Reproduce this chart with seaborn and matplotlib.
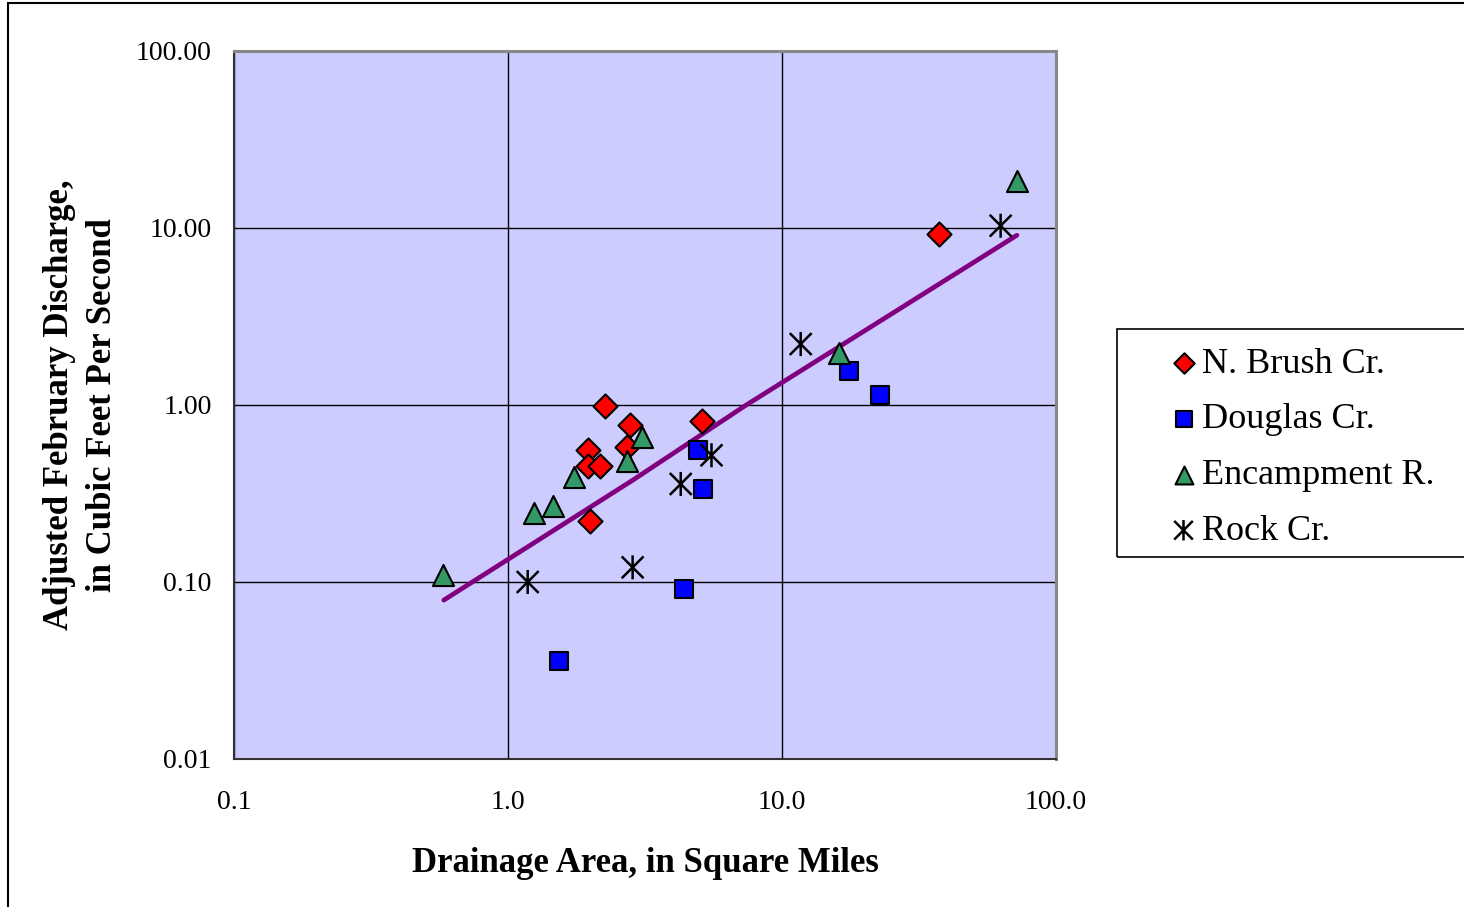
import numpy as np
import pandas as pd
import seaborn as sns
import matplotlib.pyplot as plt
from matplotlib.path import Path
from matplotlib.patches import Rectangle
from matplotlib.ticker import FixedLocator, FormatStrFormatter, NullLocator

# drainage area (sq mi) and adjusted February discharge (cfs)
brush_area = [2.26, 2.79, 1.96, 1.96, 2.17, 2.72, 5.09, 1.99, 37.4]
brush_q = [0.99, 0.77, 0.56, 0.45, 0.45, 0.58, 0.81, 0.22, 9.3]

douglas_area = [4.95, 5.14, 4.39, 1.53, 17.6, 22.8]
douglas_q = [0.56, 0.335, 0.091, 0.036, 1.55, 1.14]

encamp_area = [0.58, 1.24, 1.46, 1.74, 2.72, 3.08, 16.2, 71.9]
encamp_q = [0.11, 0.245, 0.27, 0.39, 0.48, 0.66, 1.97, 18.5]

rock_area = [1.18, 2.85, 4.27, 5.53, 11.7, 62.8]
rock_q = [0.10, 0.121, 0.358, 0.52, 2.21, 10.3]

trend_area = [0.583, 2.86, 7.33, 72.0]
trend_q = [0.079, 0.377, 0.99, 9.1]

sns.set_style("white")
plt.rcParams["font.family"] = ["Liberation Serif", "DejaVu Serif"]
plt.rcParams["text.color"] = "black"
plt.rcParams["axes.labelcolor"] = "black"
plt.rcParams["xtick.color"] = "black"
plt.rcParams["ytick.color"] = "black"

fig = plt.figure(figsize=(14.64, 9.07), dpi=100)
ax = fig.add_axes([234 / 1464, 1 - 759 / 907, (1056 - 234) / 1464, (759 - 51) / 907])
ax.set_facecolor("#ccccff")

# Excel style star: an X with a vertical stroke
star = Path(
    [(-1, -1), (1, 1), (-1, 1), (1, -1), (0, -1.1), (0, 1.1)],
    [Path.MOVETO, Path.LINETO, Path.MOVETO, Path.LINETO, Path.MOVETO, Path.LINETO],
)

trend = pd.DataFrame({"area": trend_area, "q": trend_q})
sns.lineplot(data=trend, x="area", y="q", color="#800080", linewidth=3.4, ax=ax,
             legend=False, zorder=3)

series = [
    ("N. Brush Cr.", brush_area, brush_q, "D", "#ff0000", 150),
    ("Douglas Cr.", douglas_area, douglas_q, "s", "#0000ff", 175),
    ("Encampment R.", encamp_area, encamp_q, "^", "#339966", 230),
    ("Rock Cr.", rock_area, rock_q, star, "black", 300),
]
for name, xs, ys, mk, col, size in series:
    df = pd.DataFrame({"area": xs, "q": ys})
    if mk is star:
        sns.scatterplot(data=df, x="area", y="q", marker=mk, s=size, facecolor="none",
                        edgecolor="black", linewidth=1.8, label=name, ax=ax, zorder=4)
    else:
        sns.scatterplot(data=df, x="area", y="q", marker=mk, s=size, color=col,
                        edgecolor="black", linewidth=1.5, label=name, ax=ax, zorder=4)

ax.set_xscale("log")
ax.set_yscale("log")
ax.set_xlim(0.1, 100)
ax.set_ylim(0.01, 100)
ax.xaxis.set_major_locator(FixedLocator([0.1, 1, 10, 100]))
ax.yaxis.set_major_locator(FixedLocator([0.01, 0.1, 1, 10, 100]))
ax.xaxis.set_minor_locator(NullLocator())
ax.yaxis.set_minor_locator(NullLocator())
ax.xaxis.set_major_formatter(FormatStrFormatter("%.1f"))
ax.yaxis.set_major_formatter(FormatStrFormatter("%.2f"))
ax.grid(True, which="major", color="black", linewidth=1.0)
ax.tick_params(axis="both", direction="out", length=7, width=1.2, color="#333333",
               labelsize=20, pad=9)
ax.tick_params(axis="x", pad=15)
for side in ["left", "bottom"]:
    ax.spines[side].set_color("#333333")
    ax.spines[side].set_linewidth(1.5)
for side in ["top", "right"]:
    ax.spines[side].set_color("#888888")
    ax.spines[side].set_linewidth(2.2)

ax.set_xlabel("Drainage Area, in Square Miles", fontsize=25, fontweight="bold", labelpad=23)
ax.set_ylabel("Adjusted February Discharge,\nin Cubic Feet Per Second", fontsize=25,
              fontweight="bold", labelpad=12, linespacing=1.4)

leg = ax.legend(loc="upper left", bbox_to_anchor=(1151 / 1464, 1 - 333 / 907),
                bbox_transform=fig.transFigure, frameon=False, fontsize=26,
                handletextpad=0.0, labelspacing=0.62, borderaxespad=0, handlelength=1.0,
                markerscale=0.85)

# legend frame and outer chart border
fig.patches.append(Rectangle((1117 / 1464, 1 - 557 / 907), 400 / 1464, 228 / 907,
                             transform=fig.transFigure, fill=False, edgecolor="black",
                             linewidth=1.2))
fig.patches.append(Rectangle((8 / 1464, -0.05), 1.1, 1 - 3 / 907 + 0.05,
                             transform=fig.transFigure, fill=False, edgecolor="black",
                             linewidth=1.5))

fig.savefig("out.png", dpi=100)
